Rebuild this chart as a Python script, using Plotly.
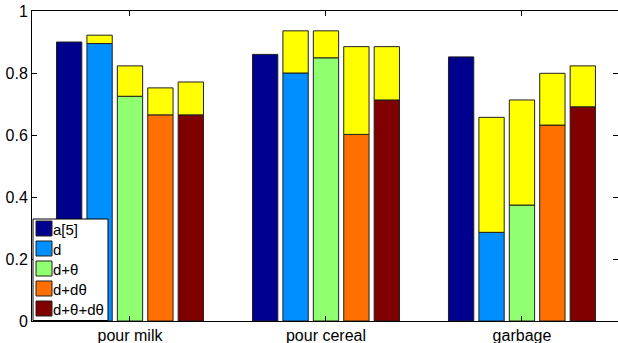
import plotly.graph_objects as go

categories = ["pour milk", "pour cereal", "garbage"]
series_names = ["a[5]", "d", "d+θ", "d+dθ", "d+θ+dθ"]
colors = ["#00008F", "#008FFF", "#90FF70", "#FF7000", "#800000"]
extra_color = "#FFFF00"

# base values (coloured part) per series, per category
base_vals = {
    "a[5]":   [0.900, 0.860, 0.852],
    "d":      [0.895, 0.800, 0.286],
    "d+θ":    [0.725, 0.849, 0.374],
    "d+dθ":   [0.665, 0.602, 0.632],
    "d+θ+dθ": [0.665, 0.713, 0.691],
}
# total heights (top of yellow part); None = no yellow part
total_vals = {
    "a[5]":   None,
    "d":      [0.922, 0.936, 0.657],
    "d+θ":    [0.823, 0.936, 0.713],
    "d+dθ":   [0.752, 0.885, 0.799],
    "d+θ+dθ": [0.771, 0.885, 0.823],
}
y_ticks = [0, 0.2, 0.4, 0.6, 0.8, 1]
y_tick_labels = ["0", "0.2", "0.4", "0.6", "0.8", "1"]

W, H = 618, 343
ML, MR, MT, MB = 32, 0, 11, 22
PW, PH = W - ML - MR, H - MT - MB
FS = 16

fig = go.Figure()
line = dict(color="#202020", width=1)
for i, name in enumerate(series_names):
    b = base_vals[name]
    fig.add_trace(go.Bar(x=categories, y=b, name=name, offsetgroup=str(i),
                         showlegend=False,
                         marker=dict(color=colors[i], line=line)))
    t = total_vals[name]
    if t is not None:
        fig.add_trace(go.Bar(x=categories, y=[tt - bb for tt, bb in zip(t, b)], base=b,
                             offsetgroup=str(i), showlegend=False, hoverinfo="skip",
                             marker=dict(color=extra_color, line=line)))

# custom legend (MATLAB style) in paper coordinates
def px_x(p):
    return (p - ML) / PW

def px_y(p):
    return (H - MB - p) / PH

shapes = [dict(type="rect", xref="paper", yref="paper",
               x0=px_x(33), x1=px_x(108), y0=px_y(320.5), y1=px_y(219),
               line=dict(color="black", width=1), fillcolor="white", layer="above")]
annotations = []
for i, name in enumerate(series_names):
    top = 221 + 20 * i
    shapes.append(dict(type="rect", xref="paper", yref="paper",
                       x0=px_x(36), x1=px_x(52), y0=px_y(top + 15), y1=px_y(top),
                       line=dict(color="#202020", width=1), fillcolor=colors[i], layer="above"))
    annotations.append(dict(xref="paper", yref="paper", x=px_x(51), y=px_y(top + 8),
                            xanchor="left", yanchor="middle", text=name, showarrow=False,
                            font=dict(size=15, color="black")))

fig.update_layout(
    width=W, height=H,
    margin=dict(l=ML, r=MR, t=MT, b=MB),
    paper_bgcolor="white", plot_bgcolor="white",
    barmode="group", bargap=0.224, bargroupgap=0.168,
    font=dict(family="Liberation Sans, Arial, Helvetica, sans-serif", size=FS, color="black"),
    showlegend=False,
    shapes=shapes, annotations=annotations,
)
fig.update_xaxes(range=[-0.5, 2.49], showline=True, linecolor="black", linewidth=1, mirror="ticks",
                 ticks="inside", ticklen=5, tickcolor="black", showgrid=False,
                 tickfont=dict(size=FS))
fig.update_yaxes(range=[0, 1], showline=True, linecolor="black", linewidth=1, mirror="ticks",
                 ticks="inside", ticklen=5, tickcolor="black", showgrid=False, zeroline=False,
                 tickvals=y_ticks, ticktext=y_tick_labels, tickfont=dict(size=FS))

fig.write_html("out.html", config={"displayModeBar": False},
               post_script="document.body.style.margin='0';document.body.style.overflow='hidden';")
